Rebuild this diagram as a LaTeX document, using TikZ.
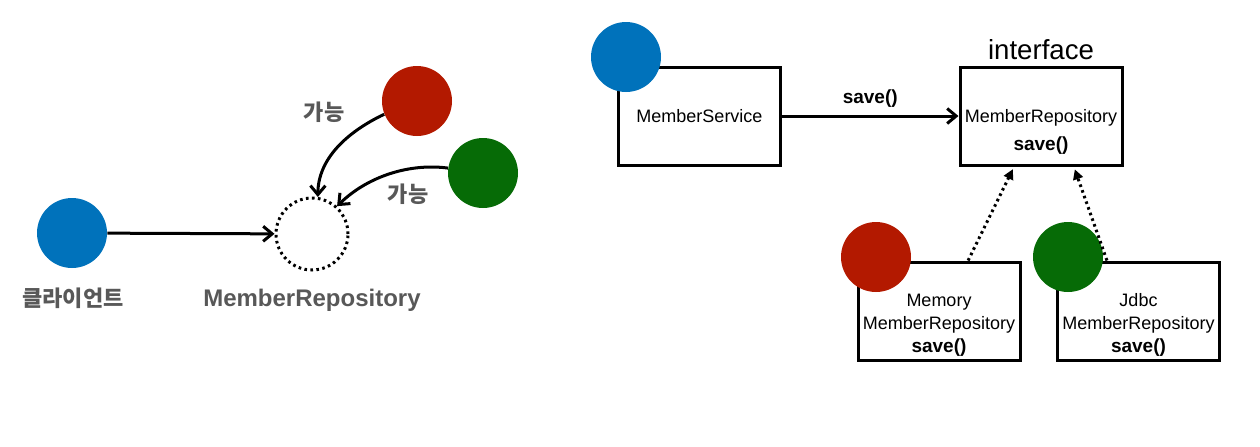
\documentclass[tikz,border=0pt]{standalone}
\usepackage{fontspec}
\setmainfont{Liberation Sans}
\newfontfamily\krfont{Noto Sans CJK KR}
\usetikzlibrary{arrows.meta}
\definecolor{objblue}{RGB}{0,114,187}
\definecolor{objred}{RGB}{179,25,0}
\definecolor{objgreen}{RGB}{6,107,6}
\definecolor{tagtext}{RGB}{88,88,88}
\begin{document}
\begin{tikzpicture}[x=0.5pt,y=-0.5pt,
    obj/.style={circle,minimum size=35pt,inner sep=0pt},
    ghost/.style={circle,draw,minimum size=36pt,inner sep=0pt,line width=1.5pt,dash pattern=on 1.3pt off 1.7pt},
    cls/.style={draw,line width=1.5pt,minimum width=81pt,minimum height=49pt,inner sep=0pt},
    txt/.style={align=center,font=\fontsize{9}{11.5}\selectfont},
    use/.style={-{Straight Barb[length=4.5pt,width=7.5pt,line width=1.5pt]},line width=1.5pt},
    impl/.style={-{Triangle[length=5pt,width=5pt]},line width=1.5pt,dash pattern=on 1.3pt off 1.7pt,shorten >=1.5pt},
    tag/.style={text=tagtext,font=\krfont\bfseries\fontsize{11}{13}\selectfont},
    call/.style={font=\bfseries\fontsize{9.5}{11.5}\selectfont}]
    \useasboundingbox (0,0) rectangle (1260,446);
    % left: the client and what it may be bound to
    \node[obj,fill=objblue]  (client) at (72,233) {};
    \node[ghost]             (repo)   at (312,234) {};
    \node[obj,fill=objred]   (memobj) at (417,101) {};
    \node[obj,fill=objgreen] (jdbcobj) at (483,173) {};
    \node[tag] (clientname) at (73,298) {클라이언트};
    \node[tag,font=\bfseries\fontsize{12}{14}\selectfont] (reponame) at (312,300) {MemberRepository};
    \node[tag] (memok)  at (324,112) {가능};
    \node[tag] (jdbcok) at (408,194) {가능};
    \draw[use] (client) -- (repo);
    \draw[use] (memobj.202) .. controls (345,133) and (318,160) .. (repo.81);
    \draw[use] (jdbcobj.172) .. controls (410,163) and (368,176) .. (repo.48);
    % right: classes
    \node[cls,txt] (service) at (699.5,116) {MemberService};
    \node[obj,fill=objblue] (serviceobj) at (626,57) {};
    \node[cls] (iface) at (1041,116) {};
    \node[txt] (ifacetxt) at (1041,132) {MemberRepository\\[2.5pt]\textbf{\fontsize{9.5}{11.5}\selectfont save()}};
    \node[font=\fontsize{13.8}{16}\selectfont] (ifacename) at (1041,50) {interface};
    \node[cls] (memory) at (939,311) {};
    \node[txt] (memorytxt) at (939,325) {Memory\\MemberRepository\\\textbf{\fontsize{9.5}{11.5}\selectfont save()}};
    \node[obj,fill=objred] (memoryobj) at (876,257) {};
    \node[cls] (jdbc) at (1138.5,311) {};
    \node[txt] (jdbctxt) at (1138.5,325) {Jdbc\\MemberRepository\\\textbf{\fontsize{9.5}{11.5}\selectfont save()}};
    \node[obj,fill=objgreen] (jdbcobj2) at (1068,257) {};
    \draw[use] (service) -- node[call,above=0pt] (savecall) {save()} (iface);
    \draw[impl] (memory.60) -- (iface.242);
    \draw[impl] (jdbc.122) -- (iface.303);
\end{tikzpicture}
\end{document}
